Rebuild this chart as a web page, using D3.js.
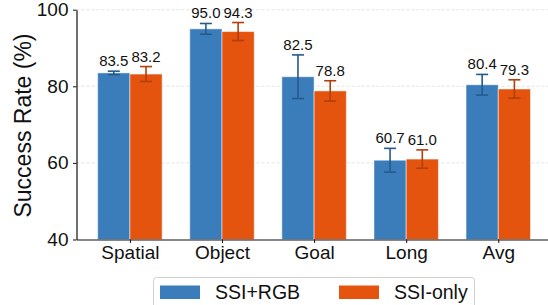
<!DOCTYPE html>
<html>
<head>
<meta charset="utf-8">
<script src="https://cdn.jsdelivr.net/npm/d3@7"></script>
<style>
  body { margin: 0; padding: 0; background: #fff; }
  svg { display: block; font-family: "Liberation Sans", Arial, sans-serif; }
</style>
</head>
<body>
<div id="main"></div>
<script>
const w = 548;
const h = 305;

const categories = ['Spatial', 'Object', 'Goal', 'Long', 'Avg'];
const seriesNames = ['SSI+RGB', 'SSI-only'];
const rgbValues = [83.5, 95.0, 82.5, 60.7, 80.4];
const rgbErrors = [0.45, 1.4, 5.7, 3.1, 2.7];
const onlyValues = [83.2, 94.3, 78.8, 61.0, 79.3];
const onlyErrors = [1.95, 2.35, 2.65, 2.4, 2.4];
const yTicks = [40, 60, 80, 100];

const colors = ['#3a7dba', '#e4540f'];
const errColors = ['#275a8c', '#b23f09'];

const series = [
  { name: seriesNames[0], values: rgbValues, errors: rgbErrors },
  { name: seriesNames[1], values: onlyValues, errors: onlyErrors }
];

const xScale = d3.scaleLinear()
                 .domain([-0.58, 4.54])
                 .range([76.5, 548]);
const yScale = d3.scaleLinear()
                 .domain([40, 100])
                 .range([239.5, 9.7]);
const barW = 0.35;

const svg = d3.select('#main')
              .append('svg')
              .attr('width', w)
              .attr('height', h);

// grid lines
svg.append('g')
   .selectAll('line')
   .data(yTicks.slice(1))
   .enter()
   .append('line')
   .attr('x1', xScale(-0.58))
   .attr('x2', w)
   .attr('y1', d => yScale(d))
   .attr('y2', d => yScale(d))
   .attr('stroke', '#dcdcdc')
   .attr('stroke-width', 0.8)
   .attr('stroke-dasharray', '3,2');

// bars, error bars, labels
series.forEach((s, si) => {
  const offset = si === 0 ? -barW / 2 : barW / 2;
  const g = svg.append('g');
  const rows = categories.map((c, i) => ({ i: i, v: s.values[i], e: s.errors[i] }));

  g.selectAll('rect')
   .data(rows)
   .enter()
   .append('rect')
   .attr('x', d => xScale(d.i + offset - barW / 2))
   .attr('y', d => yScale(d.v))
   .attr('width', xScale(barW) - xScale(0))
   .attr('height', d => yScale(40) - yScale(d.v))
   .attr('fill', colors[si])
   .attr('stroke', 'rgba(255,255,255,0.5)')
   .attr('stroke-width', 1);

  const cx = d => xScale(d.i + offset);
  g.selectAll('.err')
   .data(rows)
   .enter()
   .append('line')
   .attr('x1', cx).attr('x2', cx)
   .attr('y1', d => yScale(d.v - d.e))
   .attr('y2', d => yScale(d.v + d.e))
   .attr('stroke', errColors[si])
   .attr('stroke-width', 1.6);

  ['+', '-'].forEach(sign => {
    g.selectAll('.cap' + (sign === '+' ? 'top' : 'bot'))
     .data(rows)
     .enter()
     .append('line')
     .attr('x1', d => cx(d) - 6)
     .attr('x2', d => cx(d) + 6)
     .attr('y1', d => yScale(sign === '+' ? d.v + d.e : d.v - d.e))
     .attr('y2', d => yScale(sign === '+' ? d.v + d.e : d.v - d.e))
     .attr('stroke', errColors[si])
     .attr('stroke-width', 1.6);
  });

  g.selectAll('text')
   .data(rows)
   .enter()
   .append('text')
   .attr('x', cx)
   .attr('y', d => yScale(d.v + d.e) - 5)
   .attr('text-anchor', 'middle')
   .attr('font-size', '15px')
   .attr('fill', '#111')
   .text(d => d.v.toFixed(1));
});

// axes
const xAxis = d3.axisBottom(xScale)
                .tickValues(d3.range(categories.length))
                .tickFormat(i => categories[i])
                .tickSize(3.5)
                .tickSizeOuter(0);
const yAxis = d3.axisLeft(yScale)
                .tickValues(yTicks)
                .tickSize(3.5)
                .tickSizeOuter(0);

const gx = svg.append('g')
   .attr('transform', 'translate(0,' + yScale(40) + ')')
   .call(xAxis);
gx.select('.domain').attr('stroke', '#111').attr('stroke-width', 1.2);
gx.selectAll('.tick line').attr('stroke', '#111').attr('stroke-width', 1);
gx.selectAll('.tick text')
  .attr('font-size', '19px')
  .attr('font-family', '"Liberation Sans", Arial, sans-serif')
  .attr('fill', '#111')
  .attr('dy', '0.72em')
  .attr('y', 6);

const gy = svg.append('g')
   .attr('transform', 'translate(' + xScale(-0.58) + ',0)')
   .call(yAxis);
gy.select('.domain').attr('stroke', '#111').attr('stroke-width', 1.2);
gy.selectAll('.tick line').attr('stroke', '#111').attr('stroke-width', 1);
gy.selectAll('.tick text')
  .attr('font-size', '19px')
  .attr('font-family', '"Liberation Sans", Arial, sans-serif')
  .attr('fill', '#111')
  .attr('x', -8);

svg.append('text')
   .text('Success Rate (%)')
   .attr('transform', 'rotate(-90)')
   .attr('x', -125.5)
   .attr('y', 31)
   .attr('text-anchor', 'middle')
   .attr('font-size', '23px')
   .attr('fill', '#111');

// legend
const legend = svg.append('g');
legend.append('rect')
   .attr('x', 153.5)
   .attr('y', 277.5)
   .attr('width', 321)
   .attr('height', 40)
   .attr('rx', 3)
   .attr('fill', '#fff')
   .attr('stroke', '#d0d0d0')
   .attr('stroke-width', 1);

const legendX = [160, 339];
series.forEach((s, si) => {
  legend.append('rect')
     .attr('x', legendX[si])
     .attr('y', 285.5)
     .attr('width', 40)
     .attr('height', 13.5)
     .attr('fill', colors[si]);
  legend.append('text')
     .text(s.name)
     .attr('x', legendX[si] + 55)
     .attr('y', 299)
     .attr('font-size', '19.5px')
     .attr('fill', '#111');
});
</script>
</body>
</html>
